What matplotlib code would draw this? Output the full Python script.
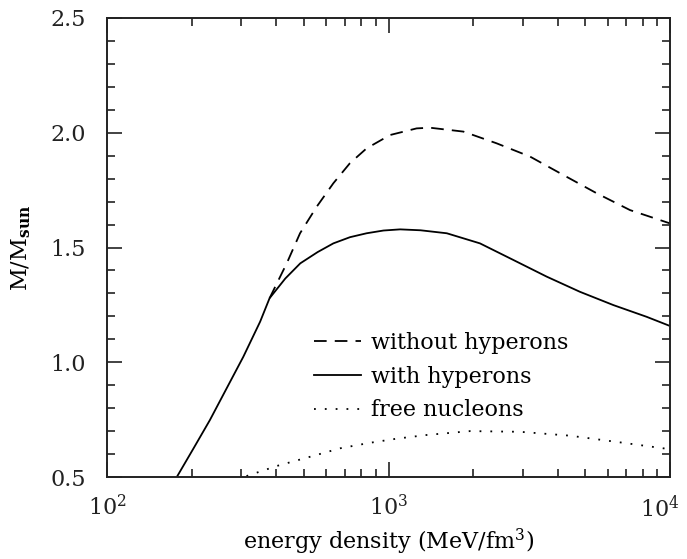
import matplotlib
matplotlib.use("Agg")
import matplotlib.pyplot as plt
import matplotlib.transforms as mtransforms
from matplotlib.ticker import LogLocator, MultipleLocator, NullFormatter, FixedLocator

plt.rcParams['font.family'] = ['DejaVu Serif']
plt.rcParams['mathtext.fontset'] = 'dejavuserif'

# with hyperons (solid)
e_with = [177, 203, 232, 266, 305, 350, 378, 430, 486, 560, 637, 730, 836, 960, 1100,
          1300, 1611, 2113, 2773, 3648, 4786, 6295, 8260, 10000]
m_with = [0.50, 0.625, 0.748, 0.886, 1.024, 1.177, 1.279, 1.365, 1.431, 1.480, 1.518, 1.545,
          1.562, 1.574, 1.579, 1.575, 1.562, 1.518, 1.446, 1.373, 1.307, 1.249, 1.198, 1.158]

# without hyperons (dashed)
e_without = [378, 435, 485, 556, 637, 729, 836, 1012, 1259, 1403, 1845, 2421, 3184,
             4178, 5495, 7211, 10000]
m_without = [1.279, 1.431, 1.562, 1.678, 1.780, 1.867, 1.932, 1.990, 2.019, 2.022, 2.005,
             1.954, 1.896, 1.816, 1.736, 1.663, 1.605]

# free nucleons (dotted)
e_free = [313, 401, 519, 673, 859, 1069, 1365, 1950, 2930, 4416, 6637, 9863]
m_free = [0.504, 0.548, 0.586, 0.625, 0.649, 0.667, 0.683, 0.700, 0.697, 0.680, 0.651, 0.622]

labels = ['without hyperons', 'with hyperons', 'free nucleons']
yticks = [0.5, 1.0, 1.5, 2.0, 2.5]
ytick_labels = ['0.5', '1.0', '1.5', '2.0', '2.5']
xticks = [100, 1000, 10000]
xtick_labels = [r'$10^2$', r'$10^3$', r'$10^4$']

fig = plt.figure(figsize=(6.87, 5.59), dpi=100)
ax = fig.add_axes([107/687, 1-477/559, (670-107)/687, (477-18)/559])

lw = 1.3
ax.plot(e_without, m_without, color='black', lw=lw, linestyle=(0, (7, 4.5)), label=labels[0])
ax.plot(e_with, m_with, color='black', lw=lw, linestyle='-', label=labels[1])
ax.plot(e_free, m_free, color='black', lw=lw, linestyle=(0, (1, 5)), label=labels[2])

ax.set_xscale('log')
ax.set_xlim(100, 10000)
ax.set_ylim(0.5, 2.5)

ax.xaxis.set_major_locator(FixedLocator(xticks))
ax.xaxis.set_minor_locator(LogLocator(base=10, subs=range(2, 10)))
ax.xaxis.set_minor_formatter(NullFormatter())
ax.set_xticklabels(xtick_labels)
ax.yaxis.set_major_locator(FixedLocator(yticks))
ax.yaxis.set_minor_locator(MultipleLocator(0.1))
ax.set_yticklabels(ytick_labels)

ax.tick_params(which='both', direction='in', top=True, right=True, width=1.2, labelsize=16, colors='#222222')
ax.tick_params(which='major', length=11)
ax.tick_params(which='minor', length=6)
ax.tick_params(axis='y', which='major', pad=15)
ax.tick_params(axis='x', which='major', pad=13)
for s in ax.spines.values():
    s.set_linewidth(1.4)
    s.set_color('#222222')

# keep the last x tick label inside the figure
xl = ax.get_xticklabels()
off = mtransforms.ScaledTranslation(-10/100, 0, fig.dpi_scale_trans)
xl[2].set_transform(xl[2].get_transform() + off)

ax.set_xlabel('energy density (MeV/fm$^3$)', fontsize=16, labelpad=4)
ax.set_ylabel(r'M/M$_{\mathbf{sun}}$', fontsize=16, labelpad=13)

leg = ax.legend(loc='lower left', bbox_to_anchor=(0.348, 0.097), frameon=False, fontsize=16,
                handlelength=2.1, handletextpad=0.45, labelspacing=0.52, borderpad=0)

fig.savefig('out.png', dpi=100)
